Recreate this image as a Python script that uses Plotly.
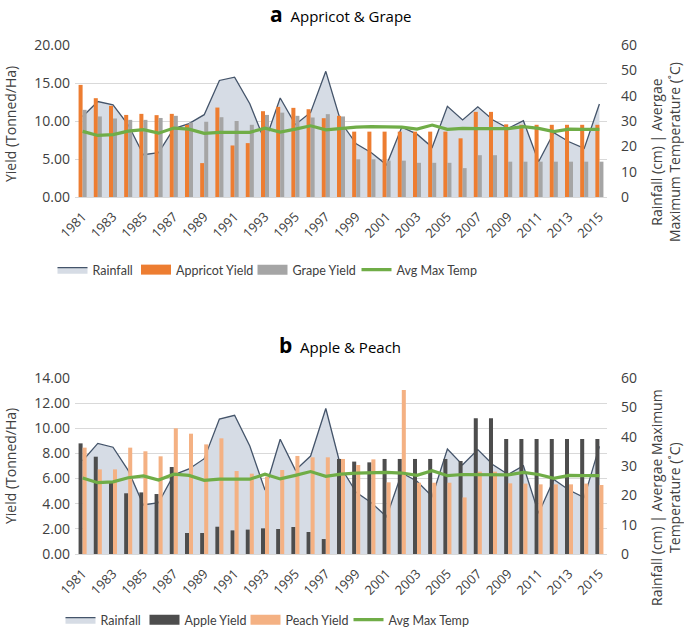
import plotly.graph_objects as go

years = list(range(1981, 2016))
rainfall_cm = [31.8, 37.7, 36.4, 28.5, 16.7, 17.5, 27.0, 29.0, 32.5, 46.0, 47.3, 36.8, 21.8, 39.1, 28.6, 33.4, 49.6,
               29.5, 21.0, 17.5, 12.7, 27.6, 24.8, 19.6, 35.8, 30.4, 35.6, 30.4, 27.1, 30.1, 13.9, 25.4, 21.8, 19.2, 36.7]
avg_max_temp = [25.9, 24.3, 24.6, 26.0, 26.6, 25.2, 27.2, 26.8, 25.1, 25.5, 25.5, 25.5, 27.2, 25.6, 26.8, 28.1, 26.5,
                27.2, 27.6, 27.8, 27.8, 27.6, 26.8, 28.4, 26.7, 27.1, 27.0, 27.0, 27.0, 27.8, 27.1, 25.8, 26.8, 26.7, 26.7]
appricot_yield = [14.75, 13.0, 12.0, 10.8, 10.94, 10.77, 10.94, 9.5, 4.46, 11.77, 6.78, 7.09, 11.29, 11.86, 11.73,
                  11.55, 10.37, 10.68, 8.6, 8.6, 8.6, 8.6, 8.6, 8.6, 8.6, 7.72, 11.2, 11.2, 9.56, 9.5, 9.5, 9.5, 9.5,
                  9.5, 9.5]
grape_yield = [11.47, 10.6, 10.33, 10.15, 10.15, 10.4, 10.68, 9.8, 9.9, 10.5, 10.0, 9.5, 10.8, 11.1, 10.68, 10.46,
               10.9, 10.6, 4.96, 4.96, 4.78, 4.78, 4.5, 4.5, 4.5, 3.8, 5.5, 5.5, 4.65, 4.65, 4.65, 4.65, 4.65, 4.65,
               4.65]
apple_yield = [8.8, 7.74, 5.7, 4.83, 4.9, 4.77, 6.92, 1.67, 1.67, 2.17, 1.88, 1.94, 2.04, 1.99, 2.15, 1.75, 1.19,
               7.56, 7.35, 7.29, 7.56, 7.56, 7.56, 7.56, 7.56, 7.4, 10.79, 10.79, 9.15, 9.15, 9.15, 9.15, 9.15, 9.15,
               9.15]
peach_yield = [8.46, 6.73, 6.73, 8.46, 8.17, 7.77, 10.0, 9.57, 8.72, 9.2, 6.6, 6.39, 6.15, 6.68, 7.8, 7.69, 7.69,
               7.56, 7.08, 7.53, 5.7, 13.05, 5.67, 5.67, 5.67, 4.5, 6.55, 6.55, 5.62, 5.6, 5.54, 5.54, 5.54, 5.6, 5.49]
x_tick_years = list(range(1981, 2016, 2))

RAIN_LINE = "#44546A"
RAIN_FILL = "#D6DCE5"
GREEN = "#70AD47"
ORANGE = "#ED7D31"
GRAY = "#A5A5A5"
DARK = "#4D4D4D"
PEACH = "#F4B183"
TXT = "#404040"
FONT = "Open Sans"
LFONT = "Lato"

W, H = 684, 635
fig = go.Figure()


def add_panel(xa, ybase, yyield, ytemp, legs, bar1, bar2):
    # visible series
    fig.add_trace(go.Scatter(x=years, y=rainfall_cm, name="Rainfall", mode="lines", fill="tozeroy",
                             line=dict(color=RAIN_LINE, width=1.3), fillcolor=RAIN_FILL,
                             xaxis=xa, yaxis=ybase, showlegend=False))
    for name, vals, col, og in [bar1 + ("g1",), bar2 + ("g2",)]:
        fig.add_trace(go.Bar(x=years, y=vals, name=name, marker_color=col, marker_line_width=0,
                             xaxis=xa, yaxis=yyield, offsetgroup=og, showlegend=False))
    fig.add_trace(go.Scatter(x=years, y=avg_max_temp, name="Avg Max Temp", mode="lines",
                             line=dict(color=GREEN, width=3.2), xaxis=xa, yaxis=ytemp, showlegend=False))
    # legend keys (Excel-style)
    fig.add_trace(go.Scatter(x=[None], y=[None], name="Rainfall", mode="lines", fill="toself",
                             line=dict(color=RAIN_LINE, width=1.3), fillcolor=RAIN_FILL,
                             xaxis=xa, yaxis=ybase, legend=legs[0]))
    fig.add_trace(go.Scatter(x=[None], y=[None], name=bar1[0], mode="lines",
                             line=dict(color=bar1[2], width=10), xaxis=xa, yaxis=ybase, legend=legs[1]))
    fig.add_trace(go.Scatter(x=[None], y=[None], name=bar2[0], mode="lines",
                             line=dict(color=bar2[2], width=10), xaxis=xa, yaxis=ybase, legend=legs[2]))
    fig.add_trace(go.Scatter(x=[None], y=[None], name="Avg Max Temp", mode="lines",
                             line=dict(color=GREEN, width=3.2), xaxis=xa, yaxis=ybase, legend=legs[3]))


add_panel("x", "y", "y2", "y3", ["legend", "legend2", "legend3", "legend4"],
          ("Appricot Yield", appricot_yield, ORANGE), ("Grape Yield", grape_yield, GRAY))
add_panel("x2", "y4", "y5", "y6", ["legend5", "legend6", "legend7", "legend8"],
          ("Apple Yield", apple_yield, DARK), ("Peach Yield", peach_yield, PEACH))

xdom = [75 / W, 607 / W]
top_dom = [1 - 197 / H, 1 - 45 / H]
bot_dom = [1 - 554 / H, 1 - 378 / H]

tickfont = dict(family=FONT, size=14, color=TXT)
xcommon = dict(tickmode="array", tickvals=x_tick_years, ticktext=[str(y) for y in x_tick_years],
               tickangle=-45, range=[1980.5, 2015.5], showgrid=False, zeroline=False, automargin=False,
               showline=True, linecolor="#D9D9D9", ticks="", ticklabelstandoff=6,
               tickfont=dict(family=FONT, size=13, color=TXT))
yleft = dict(side="left", tickformat=".2f", showgrid=True, gridcolor="#D9D9D9", gridwidth=1,
             zeroline=False, tickfont=tickfont, ticks="", automargin=False, showline=False, ticklabelstandoff=4)
yright = dict(side="right", range=[0, 60], dtick=10, showgrid=False, zeroline=False, tickfont=tickfont,
              ticks="", automargin=False, showline=False, ticklabelstandoff=13)


def leg(sym_center, yc, anchor="middle"):
    return dict(orientation="h", x=(sym_center - 20) / W, xanchor="left", y=yc, yanchor=anchor,
                font=dict(family=LFONT, size=12.5, color=TXT), bgcolor="rgba(0,0,0,0)", itemwidth=30)


top_leg_y = 1 - 270 / H
fig.update_layout(
    template="none",
    width=W, height=H, margin=dict(l=0, r=0, t=0, b=0, pad=0), autosize=False,
    paper_bgcolor="white", plot_bgcolor="white",
    barmode="group", bargap=0.47, bargroupgap=0,
    xaxis=dict(domain=xdom, anchor="y", **xcommon),
    xaxis2=dict(domain=xdom, anchor="y4", **xcommon),
    yaxis=dict(domain=top_dom, anchor="x", **yright),
    yaxis2=dict(overlaying="y", anchor="x", range=[0, 20], dtick=5, **yleft),
    yaxis3=dict(overlaying="y", anchor="x", side="right", range=[0, 60], visible=False, showgrid=False,
                automargin=False),
    yaxis4=dict(domain=bot_dom, anchor="x2", **yright),
    yaxis5=dict(overlaying="y4", anchor="x2", range=[0, 14], dtick=2, **yleft),
    yaxis6=dict(overlaying="y4", anchor="x2", side="right", range=[0, 60], visible=False, showgrid=False,
                automargin=False),
    legend=leg(72.5, top_leg_y), legend2=leg(156, top_leg_y), legend3=leg(272.5, top_leg_y),
    legend4=leg(376.5, top_leg_y),
    legend5=leg(80.5, 0, "bottom"), legend6=leg(164.5, 0, "bottom"), legend7=leg(265.5, 0, "bottom"),
    legend8=leg(368.5, 0, "bottom"),
    showlegend=True,
)

ann_font = dict(family=FONT, size=14, color=TXT)
common = dict(xref="paper", yref="paper", showarrow=False, xanchor="center", yanchor="middle")
annotations = [
    dict(text="<span style='font-size:21px'><b>a</b></span>  Appricot & Grape", x=340 / W, y=1 - 14 / H,
         font=dict(family=FONT, size=15, color="#000000"), **common),
    dict(text="<span style='font-size:21px'><b>b</b></span>  Apple & Peach", x=340 / W, y=1 - 345 / H,
         font=dict(family=FONT, size=15, color="#000000"), **common),
    dict(text="Yield (Tonned/Ha)", textangle=-90, x=10 / W, y=1 - 124 / H, font=ann_font, **common),
    dict(text="Yield (Tonned/Ha)", textangle=-90, x=10 / W, y=1 - 466 / H, font=ann_font, **common),
    dict(text="Rainfall (cm) | Avergae<br>Maximum Temperature (˚C)", textangle=-90, x=665 / W, y=1 - 152 / H,
         font=ann_font, **common),
    dict(text="Rainfall (cm) | Avergae Maximum<br>Temperature (˚C)", textangle=-90, x=665 / W, y=1 - 498 / H,
         font=ann_font, **common),
]
fig.update_layout(annotations=annotations)

fig.write_html("out.html", config={"displayModeBar": False},
               post_script="document.body.style.margin='0px';")
